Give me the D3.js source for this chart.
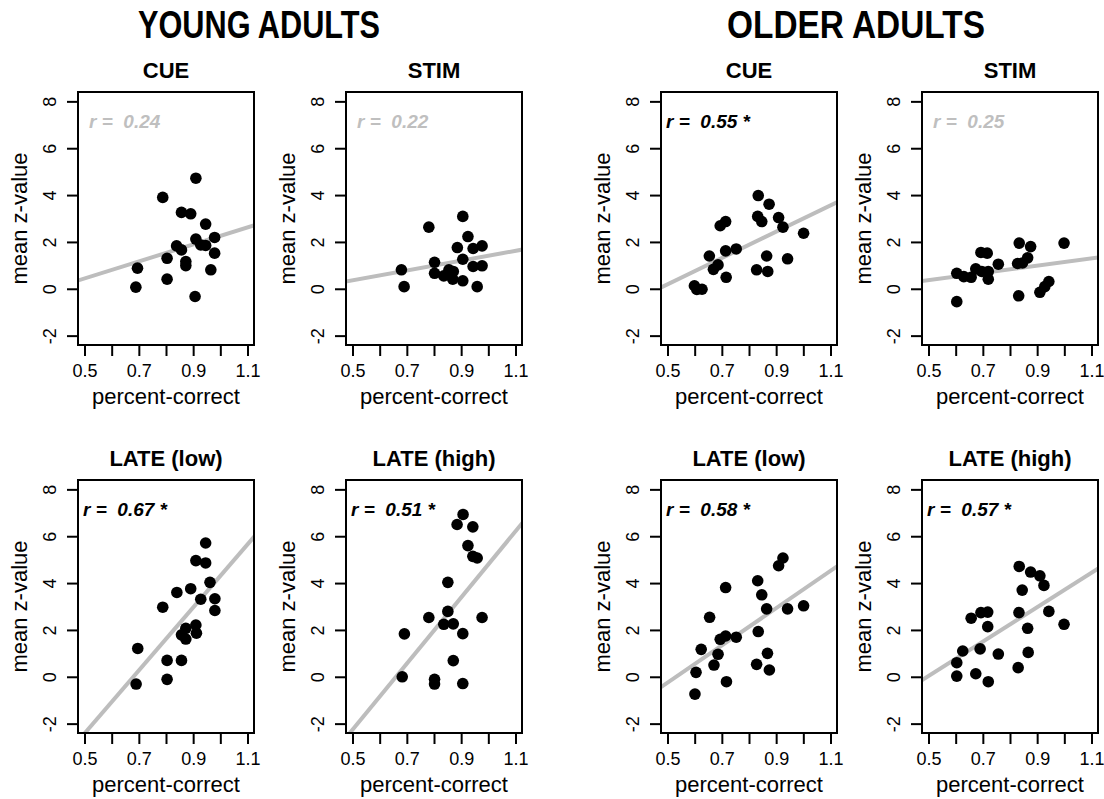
<!DOCTYPE html>
<html>
<head>
<meta charset="utf-8">
<script src="https://cdn.jsdelivr.net/npm/d3@7"></script>
<style>
  body { margin: 0; background: #fff; }
  svg { font-family: "Liberation Sans", Arial, Helvetica, sans-serif; }
</style>
</head>
<body>
<svg id="chart" width="1104" height="799"></svg>
<script>
// group titles and panel titles
const groupTitles = ['YOUNG ADULTS', 'OLDER ADULTS'];
const panelTitles = ['CUE', 'STIM', 'CUE', 'STIM', 'LATE (low)', 'LATE (high)', 'LATE (low)', 'LATE (high)'];
const rValues = ['0.24', '0.22', '0.55', '0.25', '0.67', '0.51', '0.58', '0.57'];
const significant = [false, false, true, false, true, true, true, true];

// regression line at x = 0.5 and x = 1.1
const lineAt05 = [0.44, 0.36, 0.19, 0.37, -2.42, -2.26, -0.25, 0.03];
const lineAt11 = [2.62, 1.62, 3.56, 1.30, 5.65, 6.21, 4.52, 4.44];

const xTicks = [0.5, 0.6, 0.7, 0.8, 0.9, 1.0, 1.1];
const xTickLabels = ['0.5', '', '0.7', '', '0.9', '', '1.1'];
const yTicks = [-2, 0, 2, 4, 6, 8];

// points [percent-correct, mean z-value]
const youngCue = [[0.910,4.72],[0.788,3.90],[0.857,3.26],[0.891,3.20],[0.946,2.76],[0.910,2.12],[0.979,2.19],
  [0.839,1.83],[0.857,1.66],[0.928,1.87],[0.946,1.85],[0.979,1.52],[0.804,1.30],[0.873,1.16],[0.873,0.99],
  [0.965,0.81],[0.695,0.88],[0.804,0.41],[0.689,0.07],[0.907,-0.33]];
const youngStim = [[0.906,3.09],[0.781,2.63],[0.925,2.23],[0.886,1.76],[0.944,1.72],[0.977,1.83],[0.906,1.26],
  [0.802,1.13],[0.944,0.95],[0.977,0.98],[0.802,0.66],[0.836,0.55],[0.855,0.81],[0.871,0.74],[0.869,0.41],
  [0.906,0.34],[0.680,0.81],[0.690,0.09],[0.959,0.09]];
const olderCue = [[0.834,3.98],[0.874,3.61],[0.832,3.09],[0.847,2.87],[0.909,3.04],[0.925,2.63],[1.001,2.37],
  [0.694,2.69],[0.714,2.87],[0.753,1.70],[0.714,1.62],[0.654,1.40],[0.865,1.40],[0.942,1.28],[0.686,1.02],
  [0.669,0.83],[0.828,0.81],[0.869,0.74],[0.716,0.49],[0.599,0.13],[0.608,-0.03],[0.627,-0.02]];
const olderStim = [[0.834,1.95],[0.876,1.80],[0.999,1.95],[0.693,1.55],[0.716,1.52],[0.865,1.32],[0.846,1.10],
  [0.828,1.08],[0.757,1.05],[0.674,0.85],[0.696,0.74],[0.720,0.74],[0.604,0.66],[0.630,0.52],[0.657,0.49],
  [0.720,0.41],[0.943,0.31],[0.928,0.09],[0.910,-0.15],[0.832,-0.30],[0.604,-0.55]];
const youngLow = [[0.946,5.71],[0.910,4.96],[0.946,4.86],[0.962,4.03],[0.891,3.76],[0.840,3.60],[0.928,3.31],
  [0.980,3.33],[0.980,2.83],[0.788,2.97],[0.910,2.21],[0.873,2.07],[0.912,1.86],[0.857,1.79],[0.873,1.61],
  [0.696,1.21],[0.804,0.70],[0.857,0.70],[0.804,-0.11],[0.690,-0.31]];
const youngHigh = [[0.907,6.93],[0.885,6.50],[0.943,6.40],[0.925,5.60],[0.943,5.14],[0.959,5.07],[0.851,4.03],
  [0.851,2.79],[0.781,2.53],[0.977,2.53],[0.836,2.24],[0.871,2.26],[0.906,1.84],[0.691,1.83],[0.871,0.69],
  [0.683,0.00],[0.802,-0.11],[0.802,-0.31],[0.906,-0.29]];
const olderLow = [[0.925,5.07],[0.909,4.74],[0.832,4.10],[0.714,3.81],[0.847,3.50],[0.865,2.90],[0.942,2.90],
  [1.001,3.03],[0.655,2.54],[0.834,1.93],[0.714,1.74],[0.753,1.69],[0.694,1.60],[0.624,1.17],[0.686,0.96],
  [0.868,1.00],[0.671,0.50],[0.828,0.53],[0.875,0.29],[0.605,0.19],[0.717,-0.21],[0.601,-0.74]];
const olderHigh = [[0.834,4.71],[0.876,4.47],[0.910,4.31],[0.925,3.90],[0.845,3.70],[0.693,2.74],[0.718,2.76],
  [0.657,2.50],[0.833,2.74],[0.943,2.79],[0.999,2.24],[0.718,2.14],[0.865,2.07],[0.626,1.10],[0.690,1.19],
  [0.757,0.97],[0.867,1.04],[0.604,0.60],[0.830,0.39],[0.604,0.03],[0.674,0.13],[0.720,-0.21]];

const panelData = [youngCue, youngStim, olderCue, olderStim, youngLow, youngHigh, olderLow, olderHigh];

const svg = d3.select('#chart');
const boxLeft = [78, 346, 661, 922];
const boxTop = [92, 480];
const boxW = 176;
const boxH = 253;

// group headers (tall, narrow bold type)
const groupX = [259, 856];
const groupW = [242, 258];
groupTitles.forEach((t, i) => {
  svg.append('text')
    .attr('x', groupX[i]).attr('y', 38)
    .attr('text-anchor', 'middle')
    .attr('textLength', groupW[i])
    .attr('lengthAdjust', 'spacingAndGlyphs')
    .style('font-size', '38px').style('font-weight', 'bold')
    .text(t);
});

panelData.forEach((pts, i) => {
  const col = i % 4;
  const row = Math.floor(i / 4);
  const L = boxLeft[col];
  const T = boxTop[row];

  const x = d3.scaleLinear().domain([0.476, 1.124]).range([0, boxW]);
  const y = d3.scaleLinear().domain([-2.4, 8.4]).range([boxH, 0]);

  const g = svg.append('g').attr('transform', `translate(${L}, ${T})`);

  const clipId = 'clip' + i;
  g.append('clipPath').attr('id', clipId)
    .append('rect').attr('width', boxW).attr('height', boxH);

  // regression line
  g.append('line')
    .attr('clip-path', `url(#${clipId})`)
    .attr('x1', x(0.4)).attr('y1', y(lineAt05[i] - (lineAt11[i] - lineAt05[i]) / 6))
    .attr('x2', x(1.2)).attr('y2', y(lineAt11[i] + (lineAt11[i] - lineAt05[i]) / 6))
    .attr('stroke', '#bdbdbd').attr('stroke-width', 4);

  g.selectAll('circle')
    .data(pts)
    .enter()
    .append('circle')
    .attr('cx', d => x(d[0]))
    .attr('cy', d => y(d[1]))
    .attr('r', 5.8)
    .style('fill', '#000');

  g.append('rect')
    .attr('width', boxW).attr('height', boxH)
    .attr('fill', 'none').attr('stroke', '#000').attr('stroke-width', 2);

  const xAxis = g.append('g').attr('transform', `translate(0, ${boxH})`)
    .call(d3.axisBottom(x).tickValues(xTicks).tickSize(11).tickPadding(8)
      .tickFormat((d, k) => xTickLabels[k]));
  const yAxis = g.append('g')
    .call(d3.axisLeft(y).tickValues(yTicks).tickSize(11).tickFormat(d => String(d)));

  [xAxis, yAxis].forEach(a => {
    a.select('.domain').remove();
    a.selectAll('line').attr('stroke-width', 2);
    a.selectAll('text').style('font-size', '18px').style('font-family', 'inherit').attr('fill', '#000');
  });
  xAxis.selectAll('text').attr('dy', '0.71em');
  yAxis.selectAll('text')
    .attr('text-anchor', 'middle')
    .attr('x', 0).attr('y', 0).attr('dy', 0)
    .attr('transform', 'translate(-22, 0) rotate(-90)');

  // panel title
  g.append('text')
    .attr('x', boxW / 2).attr('y', -14)
    .attr('text-anchor', 'middle')
    .style('font-size', '22px').style('font-weight', 'bold')
    .text(panelTitles[i]);

  // axis titles
  g.append('text')
    .attr('x', boxW / 2).attr('y', boxH + 59)
    .attr('text-anchor', 'middle')
    .style('font-size', '22px')
    .text('percent-correct');
  g.append('text')
    .attr('transform', `translate(-51, ${boxH / 2}) rotate(-90)`)
    .attr('text-anchor', 'middle')
    .style('font-size', '22px')
    .text('mean z-value');

  // correlation label
  g.append('text')
    .attr('x', significant[i] ? 5 : 11).attr('y', 36)
    .attr('xml:space', 'preserve')
    .style('white-space', 'pre')
    .style('font-size', '19px').style('font-weight', 'bold').style('font-style', 'italic')
    .attr('fill', significant[i] ? '#000' : '#bfbfbf')
    .text('r =  ' + rValues[i] + (significant[i] ? ' *' : ''));
});
</script>
</body>
</html>
